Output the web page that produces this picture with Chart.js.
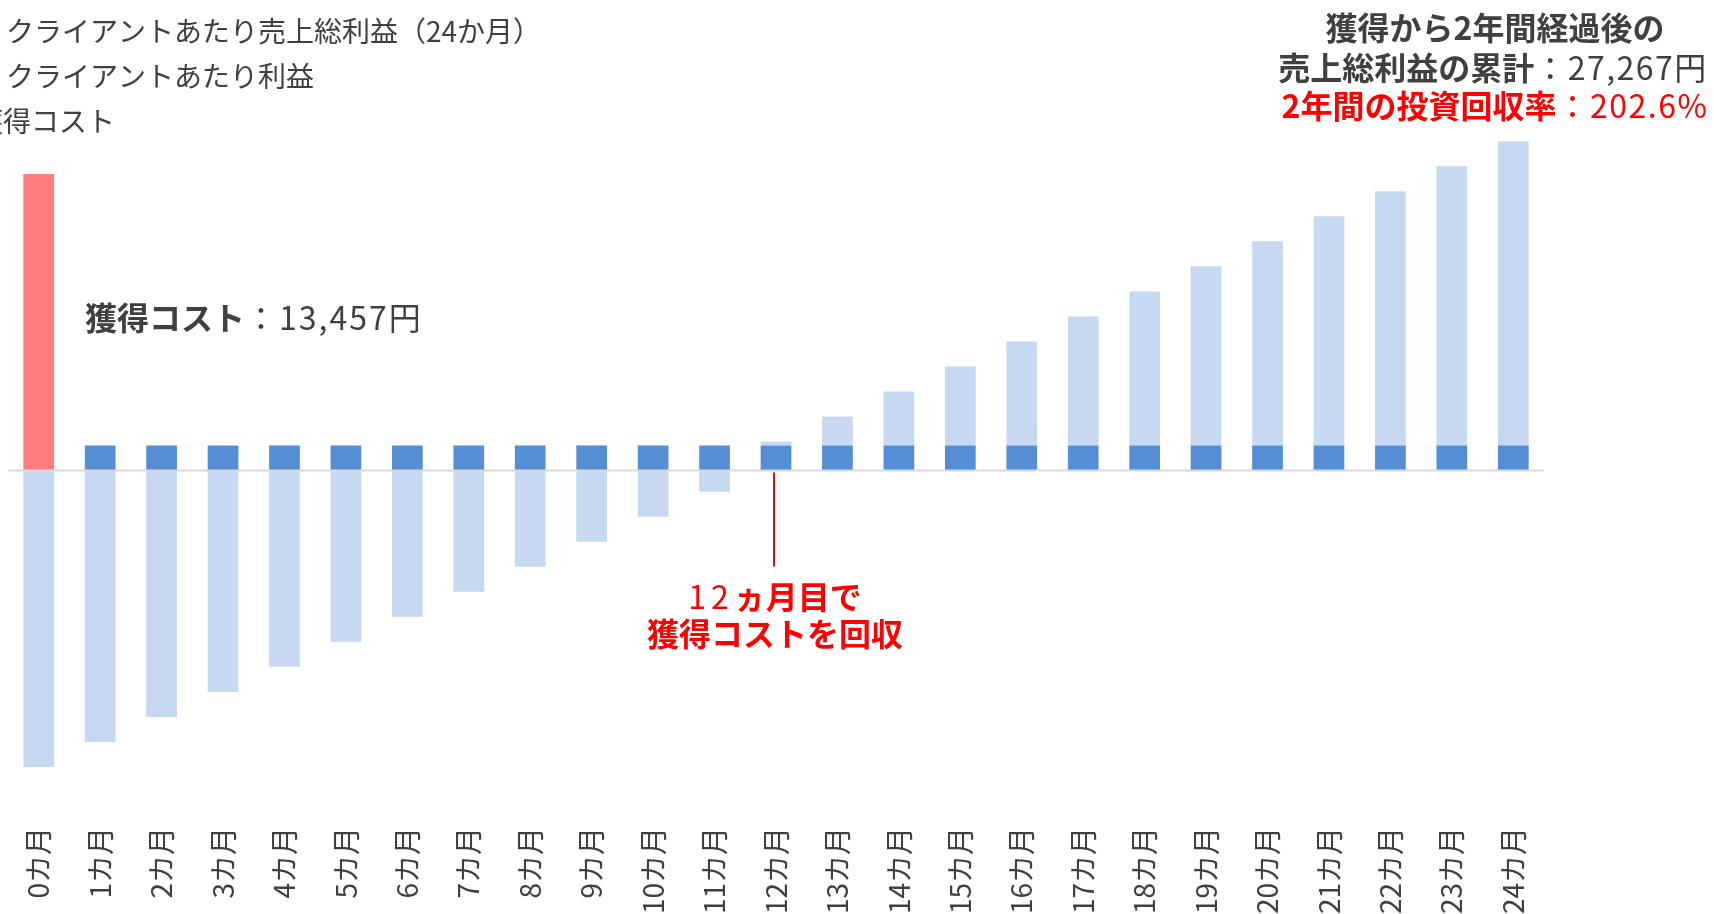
<!DOCTYPE html>
<html lang="ja">
<head>
<meta charset="UTF-8">
<title>獲得コストの回収</title>
<script src="https://cdn.jsdelivr.net/npm/chart.js@4.4.1/dist/chart.umd.min.js"></script>
<style>
  html, body { margin: 0; padding: 0; background: #fff; overflow: hidden; }
  #wrap { position: relative; width: 1714px; height: 914px; }
</style>
</head>
<body>
<div id="wrap"><canvas id="chart"></canvas></div>
<script>
// --- data ---
const months = ['0カ月', '1カ月', '2カ月', '3カ月', '4カ月', '5カ月', '6カ月', '7カ月', '8カ月',
  '9カ月', '10カ月', '11カ月', '12カ月', '13カ月', '14カ月', '15カ月', '16カ月', '17カ月',
  '18カ月', '19カ月', '20カ月', '21カ月', '22カ月', '23カ月', '24カ月'];

// 獲得コスト (only month 0)
const acquisitionCost = [13457, null, null, null, null, null, null, null, null, null, null, null, null,
  null, null, null, null, null, null, null, null, null, null, null, null];

// クライアントあたり利益 (per month)
const monthlyProfit = [null, 1136, 1136, 1136, 1136, 1136, 1136, 1136, 1136, 1136, 1136, 1136, 1136,
  1136, 1136, 1136, 1136, 1136, 1136, 1136, 1136, 1136, 1136, 1136, 1136];

// クライアントあたり売上総利益（24か月） cumulative, net of acquisition cost
const cumulativeNet = [-13457, -12321, -11185, -10049, -8912, -7776, -6640, -5504, -4368, -3232,
  -2096, -960, 177, 1313, 2449, 3585, 4721, 5857, 6993, 8129, 9266, 10402, 11538, 12674, 13810];

const seriesNames = ['クライアントあたり売上総利益（24か月）', 'クライアントあたり利益', '獲得コスト'];

const FONT = '"Noto Sans CJK JP", "Noto Sans", sans-serif';
const DARK = '#404040';
const RED = '#FF0000';

Chart.defaults.font.family = FONT;
Chart.defaults.color = DARK;

// draws a line made of parts with different weight / colour / spacing
function drawParts(ctx, parts, x, y, size, align) {
  let total = 0;
  parts.forEach(p => {
    ctx.font = (p.bold ? 'bold ' : '') + size + 'px ' + FONT;
    ctx.letterSpacing = (p.ls || 0) + 'px';
    p.w = ctx.measureText(p.text).width;
    total += p.w;
  });
  let cx = align === 'center' ? x - total / 2 : x;
  ctx.textAlign = 'left';
  ctx.textBaseline = 'middle';
  parts.forEach(p => {
    ctx.font = (p.bold ? 'bold ' : '') + size + 'px ' + FONT;
    ctx.letterSpacing = (p.ls || 0) + 'px';
    ctx.fillStyle = p.color || DARK;
    ctx.fillText(p.text, cx, y);
    cx += p.w;
  });
  ctx.letterSpacing = '0px';
}

const overlay = {
  id: 'overlay',
  afterDatasetsDraw(chart) {
    const { ctx, chartArea, scales } = chart;
    const y0 = scales.y.getPixelForValue(0);
    ctx.save();
    ctx.strokeStyle = '#D9D9D9';
    ctx.lineWidth = 2;
    ctx.beginPath();
    ctx.moveTo(chartArea.left, y0);
    ctx.lineTo(chartArea.right, y0);
    ctx.stroke();
    ctx.restore();
  },
  afterDraw(chart) {
    const { ctx, scales } = chart;
    ctx.save();

    // legend (its markers fall outside the picture)
    drawParts(ctx, [{ text: seriesNames[0] }], 6, 31, 28, 'left');
    drawParts(ctx, [{ text: seriesNames[1] }], 6, 76, 28, 'left');
    drawParts(ctx, [{ text: seriesNames[2] }], -25, 121, 28, 'left');

    // summary top right
    drawParts(ctx, [{ text: '獲得から2年間経過後の', bold: true }], 1495, 28, 32, 'center');
    drawParts(ctx, [{ text: '売上総利益の累計', bold: true }, { text: '：27,267円', ls: 1.5 }], 1493, 68, 32, 'center');
    drawParts(ctx, [{ text: '2年間の投資回収率', bold: true, color: RED }, { text: '：202.6%', color: RED, ls: 1.5 }],
      1495, 106, 32, 'center');

    // cost label
    drawParts(ctx, [{ text: '獲得コスト', bold: true }, { text: '：13,457円', ls: 2 }], 85, 318, 32, 'left');

    // payback marker at month 12
    const x12 = scales.x.getPixelForValue(12) - 2;
    const y0 = scales.y.getPixelForValue(0);
    ctx.strokeStyle = RED;
    ctx.lineWidth = 2;
    ctx.beginPath();
    ctx.moveTo(x12, y0 + 2);
    ctx.lineTo(x12, y0 + 96);
    ctx.stroke();
    drawParts(ctx, [{ text: '12', color: RED, ls: 5 }, { text: 'ヵ月目で', bold: true, color: RED }], x12 + 1, 597, 32, 'center');
    drawParts(ctx, [{ text: '獲得コストを回収', bold: true, color: RED }], x12 + 1, 634, 32, 'center');

    ctx.restore();
  }
};

new Chart(document.getElementById('chart'), {
  type: 'bar',
  data: {
    labels: months,
    datasets: [
      { label: seriesNames[1], data: monthlyProfit, backgroundColor: '#558ED5', stack: 's' },
      { label: seriesNames[0], data: cumulativeNet, backgroundColor: '#C6D9F1', stack: 's' },
      { label: seriesNames[2], data: acquisitionCost, backgroundColor: '#FF7C80', stack: 's' }
    ]
  },
  options: {
    responsive: true,
    maintainAspectRatio: false,
    animation: false,
    layout: { padding: { top: 129, left: 8, right: 170, bottom: 0 } },
    datasets: { bar: { categoryPercentage: 1, barPercentage: 0.5 } },
    plugins: { legend: { display: false }, tooltip: { enabled: false } },
    scales: {
      x: {
        stacked: true,
        grid: { display: false, drawTicks: false },
        border: { display: false },
        ticks: { color: DARK, font: { size: 28 }, minRotation: 90, maxRotation: 90, padding: 26, autoSkip: false },
        afterFit(scale) { scale.height = 113; }
      },
      y: {
        stacked: true,
        display: false,
        min: -15000,
        max: 15500
      }
    }
  },
  plugins: [overlay]
});
</script>
</body>
</html>
